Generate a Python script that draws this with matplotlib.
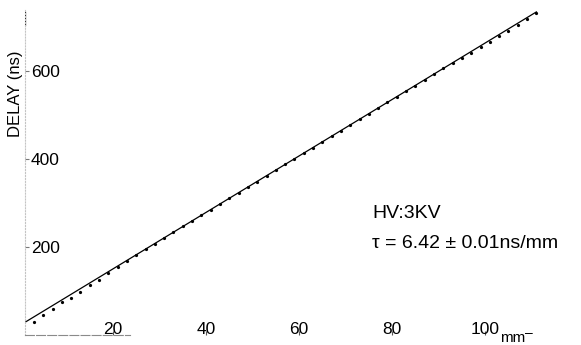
import numpy as np
import matplotlib
matplotlib.use("Agg")
import matplotlib.pyplot as plt

plt.rcParams['font.family'] = ['Liberation Sans', 'DejaVu Sans']

# measured delay vs. position along the chamber (HV = 3 kV)
position_mm = [3, 5, 7, 9, 11, 13, 15, 17, 19, 21, 23, 25, 27, 29, 31, 33, 35, 37,
               39, 41, 43, 45, 47, 49, 51, 53, 55, 57, 59, 61, 63, 65, 67, 69, 71,
               73, 75, 77, 79, 81, 83, 85, 87, 89, 91, 93, 95, 97, 99, 101, 103,
               105, 107, 109, 111]
delay_ns = [30, 45, 58, 75, 84, 98, 113, 125, 141, 154, 168, 181, 195, 208, 221,
            234, 247, 259, 272, 285, 298, 311, 324, 337, 349, 362, 375, 388, 401,
            413, 426, 439, 452, 465, 478, 491, 503, 516, 529, 542, 555, 567, 580,
            593, 606, 619, 630, 642, 654, 666, 679, 692, 704, 718, 733]

# linear fit: delay = tau * x + offset
tau = 6.42
tau_err = 0.01
fit_offset = 22
fit_range = [1.1, 111]

x_ticks = [20, 40, 60, 80, 100]
y_ticks = [200, 400, 600]

fig = plt.figure(figsize=(5.81, 3.45), dpi=100)
ax = fig.add_axes([0.043, 0.029, 0.921, 0.942])
ax.set_xlim(1.075, 116.1)
ax.set_ylim(0, 739)

fit_x = np.array(fit_range)
ax.plot(fit_x, tau * fit_x + fit_offset, color='black', lw=0.9)
ax.plot(position_mm, delay_ns, ls='none', marker='o', ms=1.3, color='black')

# faded axes
for side in ['top', 'right']:
    ax.spines[side].set_visible(False)
ax.spines['left'].set_linestyle(':')
ax.spines['left'].set_color('#c4c4c4')
ax.spines['left'].set_linewidth(0.8)
ax.spines['bottom'].set_bounds(1.075, 23.7)
ax.spines['bottom'].set_linestyle((0, (8, 2)))
ax.spines['bottom'].set_color('#8a8a8a')
ax.spines['bottom'].set_linewidth(0.8)
ax.axvline(1.075, 0.955, 0.99, color='black', lw=1.6)

ax.set_xticks(x_ticks)
ax.set_xticklabels([str(v) for v in x_ticks])
ax.set_yticks(y_ticks)
ax.set_yticklabels([str(v) for v in y_ticks])
ax.tick_params(axis='x', direction='in', length=3, width=0.8, color='#555555',
               pad=-1, labelsize=12.5)
ax.tick_params(axis='y', direction='in', length=3, width=0.8, color='#777777',
               pad=-4.3, labelsize=12.5)
plt.setp(ax.get_xticklabels(), va='baseline')
plt.setp(ax.get_yticklabels(), ha='left')

ax.text(103.2, -16, 'mm', fontsize=11, ha='left', va='baseline', clip_on=False)
ax.text(108.6, 4, '\u2013', fontsize=10, ha='left', va='center', clip_on=False)

fig.text(0.0275, 0.728, 'DELAY (ns)', rotation=90, fontsize=12,
         ha='center', va='center')
fig.text(0.641, 0.381, 'HV:3KV', fontsize=14, ha='left', va='center')
fig.text(0.641, 0.295, '\u03c4 = %.2f \u00b1 %.2fns/mm' % (tau, tau_err),
         fontsize=14, ha='left', va='center')

fig.savefig('out.png', dpi=100)
